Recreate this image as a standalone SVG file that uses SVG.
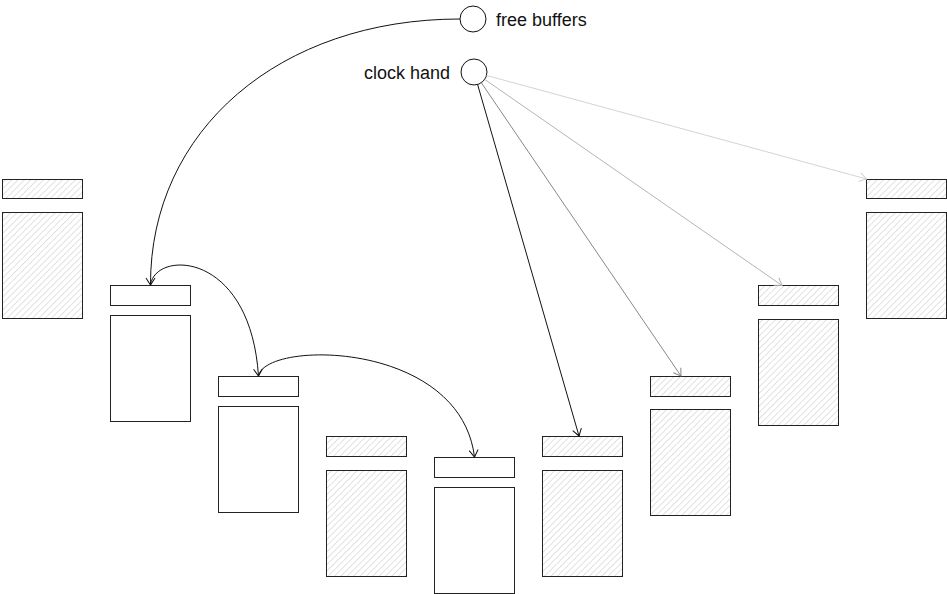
<svg xmlns="http://www.w3.org/2000/svg" width="947" height="594" viewBox="0 0 947 594">
<style>
  .box { stroke: #222; stroke-width: 1; }
  .plain { fill: #fff; }
  .hatch { fill: url(#hatch); }
  .conn { fill: none; stroke-width: 1; }
  .lbl { font-family: "Liberation Sans", Arial, sans-serif; font-size: 18px; fill: #111; }
</style>
<defs>
  <pattern id="hatch" patternUnits="userSpaceOnUse" width="4.5" height="4.5" patternTransform="rotate(45)">
    <rect width="4.5" height="4.5" fill="#fff"/>
    <line x1="0" y1="0" x2="0" y2="4.5" stroke="#c6c6c6" stroke-width="1"/>
  </pattern>
  <marker id="ah-black" viewBox="-10 -6 12 12" markerWidth="12" markerHeight="12" refX="0" refY="0" markerUnits="userSpaceOnUse" orient="auto">
    <path d="M-7,-4.5 L0,0 L-7,4.5" fill="none" stroke="#111" stroke-width="1"/>
  </marker>
  <marker id="ah-g1" viewBox="-10 -6 12 12" markerWidth="12" markerHeight="12" refX="0" refY="0" markerUnits="userSpaceOnUse" orient="auto">
    <path d="M-7,-4.5 L0,0 L-7,4.5" fill="none" stroke="#888" stroke-width="1"/>
  </marker>
  <marker id="ah-g2" viewBox="-10 -6 12 12" markerWidth="12" markerHeight="12" refX="0" refY="0" markerUnits="userSpaceOnUse" orient="auto">
    <path d="M-7,-4.5 L0,0 L-7,4.5" fill="none" stroke="#b4b4b4" stroke-width="1"/>
  </marker>
  <marker id="ah-g3" viewBox="-10 -6 12 12" markerWidth="12" markerHeight="12" refX="0" refY="0" markerUnits="userSpaceOnUse" orient="auto">
    <path d="M-7,-4.5 L0,0 L-7,4.5" fill="none" stroke="#d4d4d4" stroke-width="1"/>
  </marker>
</defs>

<g id="buffer0">
  <rect class="box hatch" x="2.5" y="179.5" width="80" height="19"/>
  <rect class="box hatch" x="2.5" y="212.5" width="80" height="106"/>
</g>
<g id="buffer1">
  <rect class="box plain" x="110.5" y="285.5" width="80" height="20"/>
  <rect class="box plain" x="110.5" y="315.5" width="80" height="106"/>
</g>
<g id="buffer2">
  <rect class="box plain" x="218.5" y="376.5" width="80" height="20"/>
  <rect class="box plain" x="218.5" y="406.5" width="80" height="106"/>
</g>
<g id="buffer3">
  <rect class="box hatch" x="326.5" y="436.5" width="80" height="20"/>
  <rect class="box hatch" x="326.5" y="470.5" width="80" height="106"/>
</g>
<g id="buffer4">
  <rect class="box plain" x="434.5" y="457.5" width="80" height="20"/>
  <rect class="box plain" x="434.5" y="487.5" width="80" height="106"/>
</g>
<g id="buffer5">
  <rect class="box hatch" x="542.5" y="436.5" width="80" height="20"/>
  <rect class="box hatch" x="542.5" y="470.5" width="80" height="106"/>
</g>
<g id="buffer6">
  <rect class="box hatch" x="650.5" y="376.5" width="80" height="20"/>
  <rect class="box hatch" x="650.5" y="409.5" width="80" height="106"/>
</g>
<g id="buffer7">
  <rect class="box hatch" x="758.5" y="285.5" width="80" height="20"/>
  <rect class="box hatch" x="758.5" y="319.5" width="80" height="106"/>
</g>
<g id="buffer8">
  <rect class="box hatch" x="866.5" y="179.5" width="80" height="19"/>
  <rect class="box hatch" x="866.5" y="212.5" width="80" height="106"/>
</g>

<g id="free-buffers">
  <circle cx="473" cy="19" r="13" fill="#fff" stroke="#111" stroke-width="1"/>
  <text class="lbl" x="496" y="26">free buffers</text>
</g>
<g id="clock-hand">
  <circle cx="474" cy="72" r="13" fill="#fff" stroke="#111" stroke-width="1"/>
  <text class="lbl" x="450" y="79" text-anchor="end">clock hand</text>
</g>

<g id="connectors">
  <path class="conn" stroke="#111" d="M460,19 C280,19 150,130 150.5,285" marker-end="url(#ah-black)"/>
  <path class="conn" stroke="#111" d="M150.5,285 C155,250 250,250 258.5,376" marker-end="url(#ah-black)"/>
  <path class="conn" stroke="#111" d="M258.5,376 C265,340 460,340 474.5,457" marker-end="url(#ah-black)"/>
  <line class="conn" stroke="#111" x1="477.6" y1="84.5" x2="579" y2="436" marker-end="url(#ah-black)"/>
  <line class="conn" stroke="#888" x1="481.3" y1="82.7" x2="681" y2="376" marker-end="url(#ah-g1)"/>
  <line class="conn" stroke="#b4b4b4" x1="484.7" y1="79.4" x2="782" y2="285.5" marker-end="url(#ah-g2)"/>
  <line class="conn" stroke="#d4d4d4" x1="486.5" y1="75.4" x2="866.5" y2="179" marker-end="url(#ah-g3)"/>
</g>
</svg>
